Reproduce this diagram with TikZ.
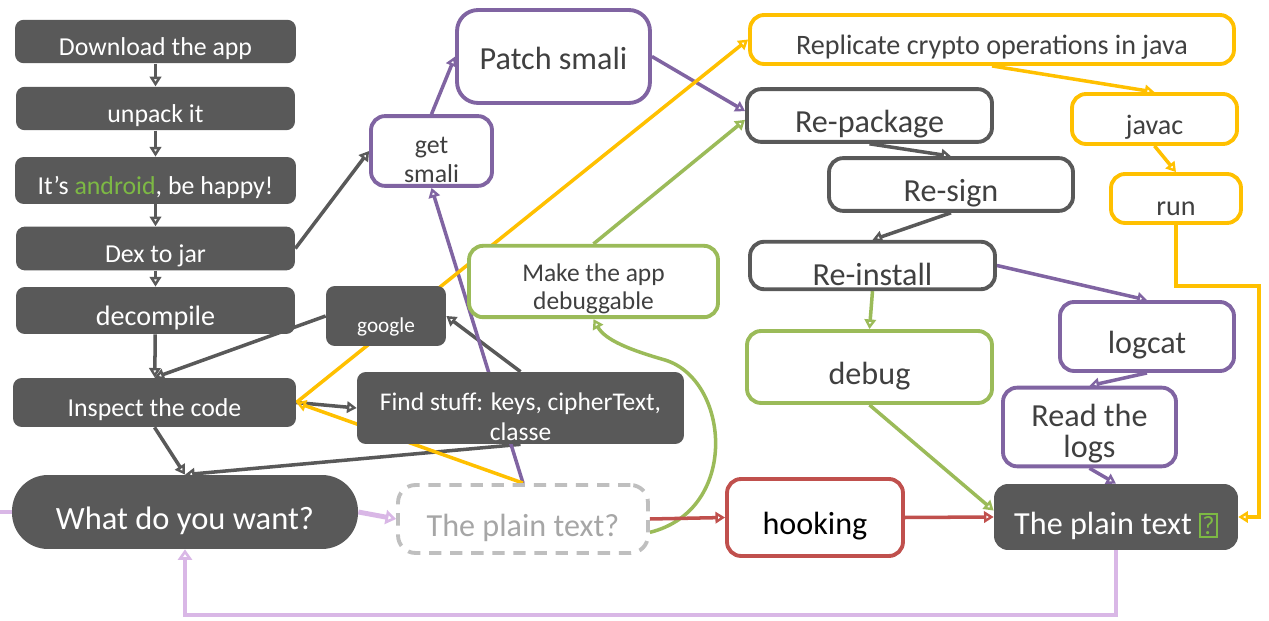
\documentclass[tikz,border=0pt]{standalone}
\usepackage{fontspec}
\setmainfont{Carlito}
\usepackage{tikz}
\usetikzlibrary{arrows.meta, positioning}
\pgfdeclarelayer{background}
\pgfsetlayers{background,main}

\definecolor{boxgray}{HTML}{595959}
\definecolor{txtgray}{HTML}{404040}
\definecolor{purplebox}{HTML}{8064A2}
\definecolor{yellowbox}{HTML}{FFC000}
\definecolor{greenbox}{HTML}{9BBB59}
\definecolor{redbox}{HTML}{C0504D}
\definecolor{lilac}{HTML}{D9B7E6}
\definecolor{dashgray}{HTML}{BFBFBF}
\definecolor{fadedtxt}{HTML}{A6A6A6}
\definecolor{droidgreen}{HTML}{7DB944}

\begin{document}
\begin{tikzpicture}[
  x=0.02cm, y=-0.02cm,
  dark/.style={rectangle, fill=boxgray, text=white, rounded corners=5pt, align=center, inner sep=2pt,
    execute at begin node={\rule{0pt}{1.25em}}},
  outline/.style={rectangle, draw=#1, fill=white, line width=2.2pt, text=txtgray, rounded corners=8pt, align=center, inner sep=2pt,
    execute at begin node={\rule{0pt}{1.25em}}},
  small/.style={font=\fontsize{14.7}{16.5}\selectfont},
  mid/.style={font=\fontsize{16}{17}\selectfont},
  big/.style={font=\fontsize{18.3}{17}\selectfont},
  link/.style={draw=#1, line width=2pt, -{Triangle[open, length=5.5pt, width=6.5pt]}},
  wide link/.style={draw=#1, line width=2.8pt, -{Triangle[open, length=6pt, width=8pt]}}
]
\useasboundingbox (0,0) rectangle (1269,621);

% left column
\node[dark, small, minimum width=5.62cm, minimum height=0.82cm] (download) at (155.5,41.5) {Download the app};
\node[dark, small, minimum width=5.58cm, minimum height=0.74cm] (unpack) at (155.5,108.5) {unpack it};
\node[dark, small, minimum width=5.62cm, minimum height=0.94cm] (android) at (155.5,180.5) {It’s {\color{droidgreen}android}, be happy!};
\node[dark, small, minimum width=5.58cm, minimum height=0.70cm] (dex) at (155.5,248.5) {Dex to jar};
\node[dark, mid, minimum width=5.58cm, minimum height=0.94cm] (decompile) at (155.5,310.5) {decompile};
\node[dark, small, minimum width=5.66cm, minimum height=0.98cm] (inspect) at (154.5,402.5) {Inspect the code};
\node[dark, font=\fontsize{18.5}{20}\selectfont, minimum width=6.92cm, minimum height=1.48cm, rounded corners=0.72cm] (want) at (185,512) {What do you want?};

% middle
\node[dark, font=\fontsize{12.1}{14}\selectfont, minimum width=2.4cm, minimum height=1.2cm] (google) at (386,316) {\rule{0pt}{1.7em}google};
\node[dark, font=\fontsize{14.5}{17}\selectfont, minimum width=6.54cm, minimum height=1.32cm] (findstuff) at (520.5,408) {\rule{0pt}{1.37em}Find stuff: keys, cipherText,\\classe};
\node[outline=purplebox, small, minimum width=2.42cm, minimum height=1.28cm] (getsmali) at (431.5,151) {\rule{0pt}{1.3em}get\\smali};
\node[outline=purplebox, big, minimum width=3.86cm, minimum height=1.86cm, rounded corners=12pt] (patch) at (553.5,56.5) {\raisebox{4pt}{Patch smali}};
\node[outline=greenbox, font=\fontsize{14.5}{16}\selectfont, minimum width=4.98cm, minimum height=1.42cm] (debuggable) at (593.5,281.5) {\rule{0pt}{1.25em}Make the app\\debuggable};
\node[outline=dashgray, dash pattern=on 7pt off 5pt, big, text=fadedtxt, minimum width=5cm, minimum height=1.36cm, rounded corners=10pt] (askplain) at (523,519) {The plain text?};

% right part
\node[outline=yellowbox, mid, minimum width=9.68cm, minimum height=0.98cm] (replicate) at (992,39.5) {Replicate crypto operations in java};
\node[outline=boxgray, big, minimum width=4.9cm, minimum height=0.98cm] (repackage) at (869.5,115.5) {Re-package};
\node[outline=boxgray, big, minimum width=4.88cm, minimum height=0.86cm] (resign) at (951,184.5) {Re-sign};
\node[outline=boxgray, big, minimum width=4.9cm, minimum height=0.86cm] (reinstall) at (872.5,265.5) {Re-install};
\node[outline=yellowbox, mid, minimum width=3.3cm, minimum height=1.0cm] (javac) at (1154.5,119) {javac};
\node[outline=yellowbox, mid, minimum width=2.6cm, minimum height=0.98cm] (run) at (1176,198.5) {run};
\node[outline=purplebox, big, minimum width=3.48cm, minimum height=1.38cm] (logcat) at (1147,336.5) {logcat};
\node[outline=purplebox, font=\fontsize{18.3}{17.5}\selectfont, minimum width=3.46cm, minimum height=1.4cm] (readlogs) at (1089.5,427) {\rule{0pt}{1.1em}Read the\\logs};
\node[outline=greenbox, big, minimum width=4.9cm, minimum height=1.44cm] (debug) at (869.5,367) {debug};
\node[outline=redbox, big, text=black, minimum width=3.52cm, minimum height=1.54cm] (hooking) at (815,517.5) {hooking};
\node[dark, big, minimum width=4.88cm, minimum height=1.32cm, rounded corners=8pt] (plaintext) at (1116,517) {The plain text {\color{droidgreen}\setlength{\fboxsep}{1pt}\setlength{\fboxrule}{0.8pt}\fbox{\fontsize{15}{15}\selectfont ?}}};

\coordinate (offleft) at (0,512);
\coordinate (runturn) at (1259,286);
\coordinate (loopback) at (185,615);

\begin{pgfonlayer}{background}
% gray flow
\draw[link=boxgray] (download) -- (unpack);
\draw[link=boxgray] (unpack) -- (android);
\draw[link=boxgray] (android) -- (dex);
\draw[link=boxgray] (dex) -- (decompile);
\draw[link=boxgray] (decompile) -- (inspect);
\draw[link=boxgray] (dex.east) -- (getsmali.west);
\draw[link=boxgray] (google.west) -- (inspect.north);
\draw[link=boxgray] (findstuff.north) -- (google.east);
\draw[link=boxgray] (inspect.east) -- (findstuff.west);
\draw[link=boxgray] (inspect.south) -- (want.north);
\draw[link=boxgray] (findstuff.south) -- (want.north);
\draw[link=boxgray] (repackage.south) -- (resign.north);
\draw[link=boxgray] (resign.south) -- (reinstall.north);

% purple
\draw[link=purplebox] (getsmali.north) -- (patch.west);
\draw[link=purplebox] (patch.east) -- (repackage.178);
\draw[link=purplebox] (askplain.north) -- (getsmali.south);
\draw[link=purplebox] (reinstall.east) -- (logcat.north);
\draw[link=purplebox] (logcat.south) -- (readlogs.north);
\draw[link=purplebox] (readlogs.south) -- (plaintext.north);

% yellow
\draw[link=yellowbox] (askplain.north) -- (inspect.east);
\draw[link=yellowbox] (inspect.east) -- (replicate.west);
\draw[link=yellowbox] (replicate.south) -- (javac.north);
\draw[link=yellowbox] (javac.south) -- (run.north);
\draw[link=yellowbox] (run.south) |- (runturn) |- (plaintext.east);

% green
\draw[link=greenbox] (debuggable.north) -- (repackage.182);
\draw[link=greenbox] (reinstall.south) -- (debug.north);
\draw[link=greenbox] (debug.south) -- (plaintext.177);
\draw[link=greenbox] (askplain.-6) .. controls (740,510) and (730,380) .. (665,360) .. controls (630,350) and (605,340) .. (debuggable.south);

% red
\draw[link=redbox] (askplain.east) -- (hooking.west);
\draw[link=redbox] (hooking.east) -- (plaintext.west);

% lilac
\draw[draw=lilac, line width=2.8pt] (offleft) -- (want.west);
\draw[wide link=lilac] (want.east) -- (askplain.west);
\draw[wide link=lilac] (plaintext.south) |- (loopback) -- (want.south);
\end{pgfonlayer}

\end{tikzpicture}
\end{document}
